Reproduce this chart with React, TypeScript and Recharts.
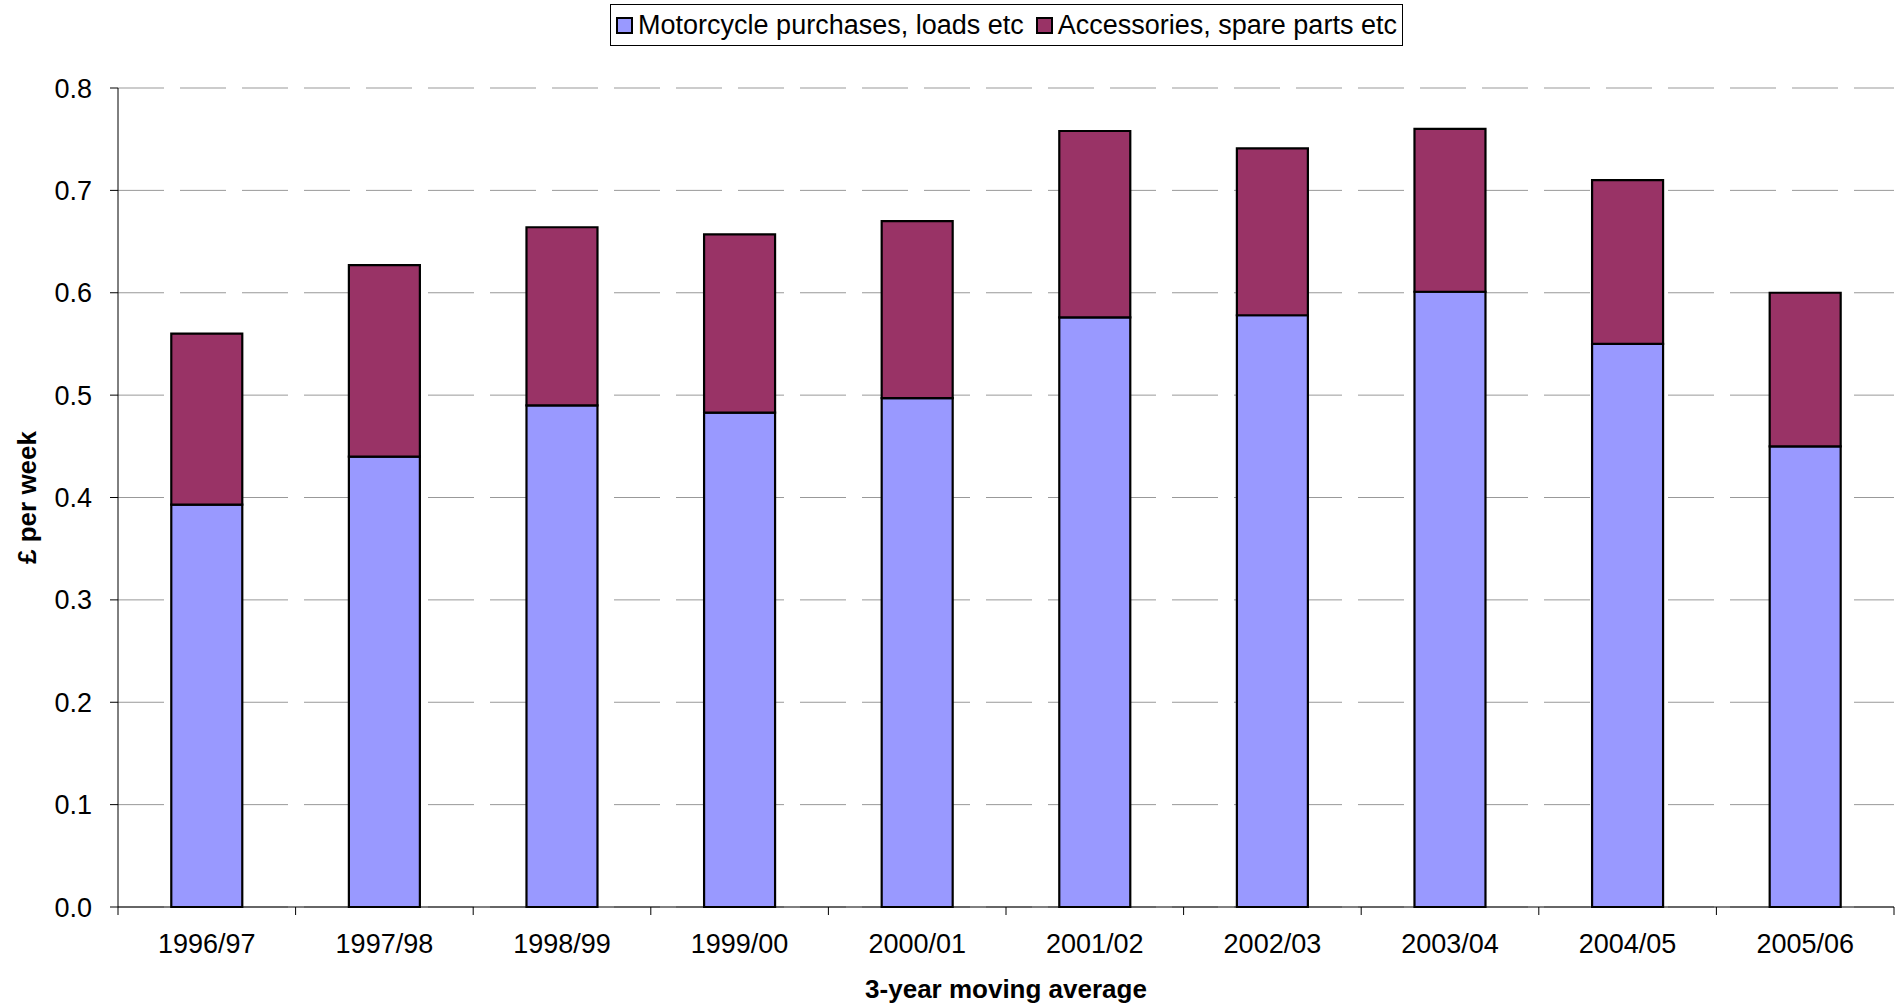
import React from 'react';
import { BarChart, Bar, XAxis, YAxis, CartesianGrid } from 'recharts';

// 3-year moving averages, £ per week
const periods = ['1996/97', '1997/98', '1998/99', '1999/00', '2000/01', '2001/02', '2002/03', '2003/04', '2004/05', '2005/06'];
const motorcycles = [0.393, 0.44, 0.49, 0.483, 0.497, 0.576, 0.578, 0.601, 0.55, 0.45];
const accessories = [0.167, 0.187, 0.174, 0.174, 0.173, 0.182, 0.163, 0.159, 0.16, 0.15];
const yTicks = [0, 0.1, 0.2, 0.3, 0.4, 0.5, 0.6, 0.7, 0.8];

const seriesNames = ['Motorcycle purchases, loads etc', 'Accessories, spare parts etc'];
const seriesColors = ['#9999FF', '#993366'];

const data = periods.map((period, i) => ({
    period,
    motorcycles: motorcycles[i],
    accessories: accessories[i],
}));

const W = 1901;
const H = 1007;
const Y_AXIS_W = 118;
const MARGIN_RIGHT = 7;
const BAND = (W - Y_AXIS_W - MARGIN_RIGHT) / periods.length;
const FONT = '"Liberation Sans", Arial, sans-serif';
const FS = 27;

const PeriodTick = (props: any) => {
    const { x, y, payload, index } = props;
    return (
        <g>
            <line x1={x - BAND / 2} x2={x - BAND / 2} y1={y} y2={y + 8} stroke="#000" />
            {index === periods.length - 1 && (
                <line x1={x + BAND / 2} x2={x + BAND / 2} y1={y} y2={y + 8} stroke="#000" />
            )}
            <text x={x} y={y + 46} textAnchor="middle" fill="#000" fontSize={FS} fontFamily={FONT}>
                {payload.value}
            </text>
        </g>
    );
};

const YTitle = (props: any) => {
    const { viewBox } = props;
    const cx = viewBox.x + 27;
    const cy = viewBox.y + viewBox.height / 2;
    return (
        <text
            x={cx}
            y={cy}
            transform={`rotate(-90 ${cx} ${cy})`}
            textAnchor="middle"
            dominantBaseline="central"
            fontSize={26}
            fontWeight="bold"
            fontFamily={FONT}
            fill="#000"
        >
            £ per week
        </text>
    );
};

export default function App() {
    return (
        <div style={{ position: 'relative', width: W, height: H, background: '#fff' }}>
            <style>{'body{margin:0}'}</style>
            <BarChart
                width={W}
                height={H}
                data={data}
                margin={{ top: 88, right: MARGIN_RIGHT, bottom: 0, left: 0 }}
                barCategoryGap="30%"
            >
                <CartesianGrid vertical={false} stroke="#999" strokeDasharray="46 16" />
                <XAxis
                    dataKey="period"
                    height={100}
                    axisLine={{ stroke: '#000' }}
                    tickLine={false}
                    tickSize={0}
                    tickMargin={0}
                    interval={0}
                    tick={<PeriodTick />}
                    label={{
                        value: '3-year moving average',
                        position: 'insideBottom',
                        offset: 9,
                        style: { fontSize: 26, fontWeight: 'bold', fontFamily: FONT, fill: '#000' },
                    }}
                />
                <YAxis
                    width={Y_AXIS_W}
                    domain={[0, 0.8]}
                    ticks={yTicks}
                    interval={0}
                    axisLine={{ stroke: '#000' }}
                    tickLine={{ stroke: '#000' }}
                    tickSize={8}
                    tickMargin={18}
                    tickFormatter={(v: number) => v.toFixed(1)}
                    tick={{ fill: '#000', fontSize: FS, fontFamily: FONT }}
                    label={<YTitle />}
                />
                <Bar
                    dataKey="motorcycles"
                    stackId="a"
                    fill={seriesColors[0]}
                    stroke="#000"
                    strokeWidth={2.2}
                    isAnimationActive={false}
                />
                <Bar
                    dataKey="accessories"
                    stackId="a"
                    fill={seriesColors[1]}
                    stroke="#000"
                    strokeWidth={2.2}
                    isAnimationActive={false}
                />
            </BarChart>

            {/* legend box, boxed like the original */}
            <div
                style={{
                    position: 'absolute',
                    left: 610,
                    top: 4,
                    width: 793,
                    height: 42,
                    boxSizing: 'border-box',
                    border: '1px solid #000',
                    display: 'flex',
                    alignItems: 'center',
                    justifyContent: 'center',
                    gap: 12,
                    fontFamily: FONT,
                    fontSize: FS,
                    color: '#000',
                    background: '#fff',
                    whiteSpace: 'nowrap',
                }}
            >
                {seriesNames.map((name, i) => (
                    <div key={name} style={{ display: 'flex', alignItems: 'center', gap: 5 }}>
                        <span
                            style={{
                                display: 'inline-block',
                                width: 17,
                                height: 17,
                                boxSizing: 'border-box',
                                border: '2px solid #000',
                                background: seriesColors[i],
                            }}
                        />
                        <span>{name}</span>
                    </div>
                ))}
            </div>
        </div>
    );
}
